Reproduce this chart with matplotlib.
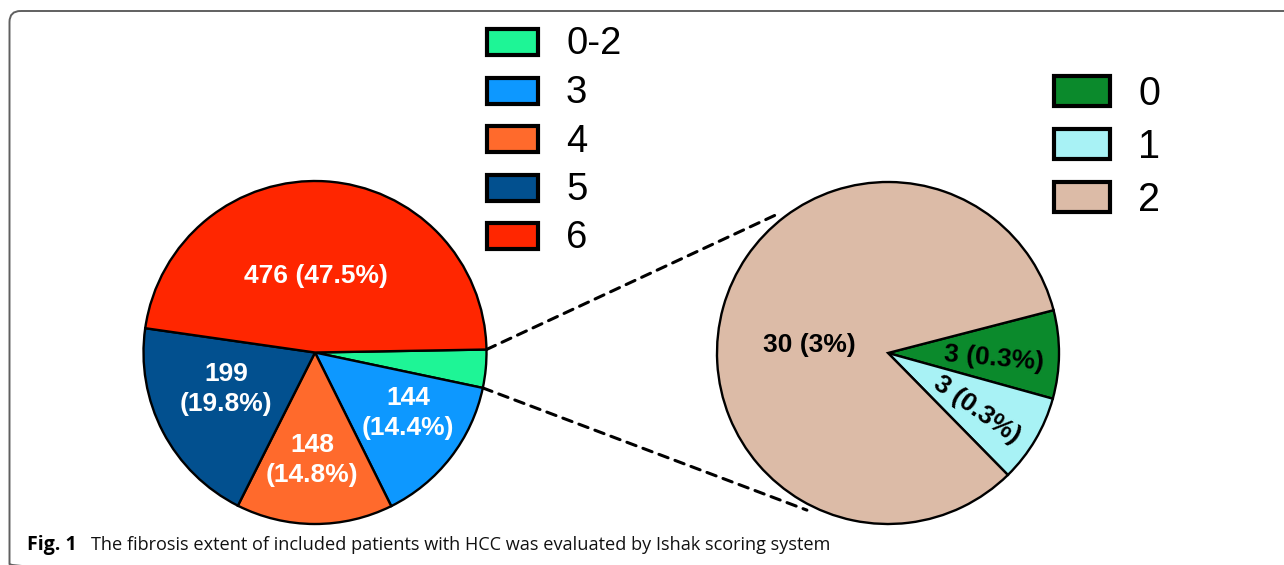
import matplotlib
matplotlib.use("Agg")
import matplotlib.pyplot as plt
from matplotlib.patches import Rectangle, FancyBboxPatch, ConnectionPatch
import numpy as np

# Ishak fibrosis stage groups, all HCC patients
stage_labels = ["0-2", "3", "4", "5", "6"]
stage_counts = [36, 144, 148, 199, 476]
stage_colors = ["#1EF596", "#0D98FF", "#FF6A2C", "#02508F", "#FF2600"]

# Breakdown of the 0-2 group
low_labels = ["0", "1", "2"]
low_counts = [3, 3, 30]
low_colors = ["#0B8A2C", "#A8F2F5", "#DCBBA7"]

caption_bold = "Fig. 1"
caption_text = ("The fibrosis extent of included patients with HCC was "
                "evaluated by Ishak scoring system")

W, H = 1284, 565
total = sum(stage_counts)


def pct(v):
    p = f"{100 * v / total:.1f}"
    return p[:-2] if p.endswith(".0") else p


fig = plt.figure(figsize=(W / 100, H / 100), dpi=100)
fig.patch.set_facecolor("white")

# full-figure canvas in pixel units (y downwards)
bg = fig.add_axes([0, 0, 1, 1], zorder=0)
bg.set_xlim(0, W)
bg.set_ylim(H, 0)
bg.axis("off")

# rounded frame, open towards the right and bottom edges
bg.add_patch(FancyBboxPatch((9.5, 11), 1400, 564,
                            boxstyle="round,pad=0,rounding_size=11",
                            fc="none", ec="#606060", lw=1.4))


def pie_axes(cx, cy, r, pad=8):
    rr = r + pad
    ax = fig.add_axes([(cx - rr) / W, (H - cy - rr) / H, 2 * rr / W, 2 * rr / H],
                      zorder=2)
    return ax, rr / r


wedge_kw = dict(edgecolor="black", linewidth=1.7)

# main pie
ax1, lim1 = pie_axes(315, 352.5, 171.5)
w1, _ = ax1.pie(stage_counts, colors=stage_colors, startangle=1,
                counterclock=False, radius=1, wedgeprops=wedge_kw)
ax1.set_xlim(-lim1, lim1)
ax1.set_ylim(-lim1, lim1)
ax1.set_aspect("equal")
ax1.axis("off")

# label placement inside the main pie (pie units) and line layout
left_pos = {1: (0.542, -0.353), 2: (-0.017, -0.627), 3: (-0.519, -0.213), 4: (0.006, 0.446)}
left_two_line = {1: True, 2: True, 3: True, 4: False}
for i, (x, y) in left_pos.items():
    v = stage_counts[i]
    sep = "\n" if left_two_line[i] else " "
    ax1.text(x, y, f"{v}{sep}({pct(v)}%)", ha="center", va="center",
             color="white", fontsize=19, fontweight="bold",
             family="Liberation Sans", linespacing=1.28)

# detail pie
ax2, lim2 = pie_axes(888, 353, 171)
w2, _ = ax2.pie(low_counts, colors=low_colors, startangle=14.5,
                counterclock=False, radius=1, wedgeprops=wedge_kw)
ax2.set_xlim(-lim2, lim2)
ax2.set_ylim(-lim2, lim2)
ax2.set_aspect("equal")
ax2.axis("off")

right_pos = {0: (0.62, -0.03, -5), 1: (0.52, -0.333, -35), 2: (-0.462, 0.047, 0)}
for i, (x, y, rot) in right_pos.items():
    v = low_counts[i]
    ax2.text(x, y, f"{v} ({pct(v)}%)", ha="center", va="center", rotation=rot,
             rotation_mode="anchor", color="black", fontsize=19,
             fontweight="bold", family="Liberation Sans")

# dashed connectors from the 0-2 wedge to the detail pie
src = w1[0]
for a_ang, b_ang in ((src.theta2, 127.6), (src.theta1, -117.3)):
    a = np.deg2rad(a_ang)
    b = np.deg2rad(b_ang)
    con = ConnectionPatch(xyA=(np.cos(a), np.sin(a)), coordsA=ax1.transData,
                          xyB=(1.034 * np.cos(b), 1.034 * np.sin(b)),
                          coordsB=ax2.transData,
                          color="black", lw=2.2, linestyle=(0, (3.2, 2.4)))
    fig.add_artist(con)

# legends
for i, (lab, col) in enumerate(zip(stage_labels, stage_colors)):
    yc = 42 + i * 48.5
    bg.add_patch(Rectangle((487, yc - 13), 51, 26, fc=col, ec="black", lw=3))
    bg.text(566, yc + 12.5, lab, fontsize=27.5, ha="left", va="baseline",
            family="Liberation Sans", color="black")

for i, (lab, col) in enumerate(zip(low_labels, low_colors)):
    yc = 91 + i * 53
    bg.add_patch(Rectangle((1054, yc - 15), 56, 30, fc=col, ec="black", lw=3))
    bg.text(1138, yc + 14, lab, fontsize=28.5, ha="left", va="baseline",
            family="Liberation Sans", color="black")

# caption
cap_b = bg.text(27, 550, caption_bold, fontsize=11, fontweight="bold",
                family="Open Sans", ha="left", va="baseline", color="black")
cap_t = bg.text(91, 550, caption_text, fontsize=11, family="Open Sans",
                ha="left", va="baseline", color="#111111")
fig.canvas.draw()
for t, target in ((cap_b, 50), (cap_t, 741)):
    w = t.get_window_extent().width
    t.set_fontsize(t.get_fontsize() * target / w)

fig.savefig("out.png", dpi=100, facecolor="white")
